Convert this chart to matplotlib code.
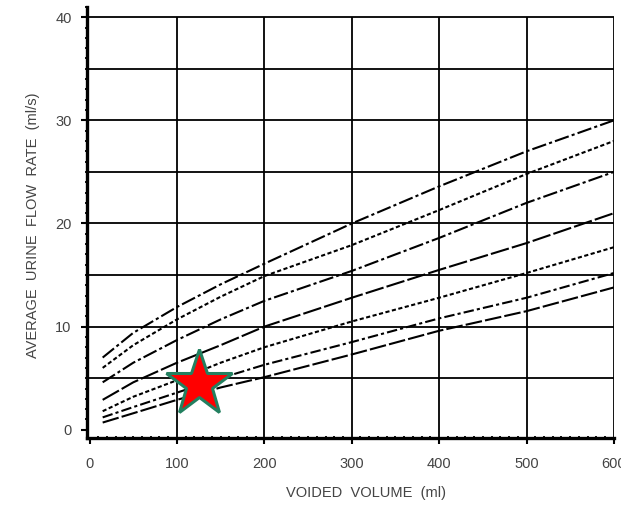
import matplotlib.pyplot as plt
from matplotlib.ticker import MultipleLocator

# voided volume (ml) where the curves were read
volume = [15, 50, 100, 150, 200, 300, 400, 500, 600]

# average flow rate (ml/s), top curve first
curve1 = [7.0, 9.4, 11.9, 14.1, 16.1, 20.0, 23.6, 27.0, 30.0]
curve2 = [6.0, 8.2, 10.7, 12.9, 14.9, 17.9, 21.3, 24.8, 28.0]
curve3 = [4.6, 6.5, 8.7, 10.7, 12.5, 15.4, 18.6, 22.0, 25.0]
curve4 = [2.9, 4.6, 6.5, 8.2, 10.0, 12.8, 15.5, 18.1, 21.0]
curve5 = [1.8, 3.2, 4.8, 6.5, 8.0, 10.5, 12.8, 15.2, 17.7]
curve6 = [1.2, 2.2, 3.6, 5.0, 6.3, 8.5, 10.8, 12.8, 15.2]
curve7 = [0.7, 1.6, 2.9, 4.1, 5.1, 7.3, 9.6, 11.5, 13.8]

# patient point
star_volume = [125]
star_flow = [4.4]

x_grid = [100, 200, 300, 400, 500, 600]
y_grid = [5, 10, 15, 20, 25, 30, 35, 40]

plt.rcParams["font.family"] = ["Liberation Sans", "DejaVu Sans"]

fig = plt.figure(figsize=(6.21, 5.12), dpi=100)
ax = fig.add_axes([0.140, 0.1445, 0.8486, 0.842])
ax.set_xlim(-3, 600)
ax.set_ylim(-0.8, 41)

# grid drawn by hand so it stops at 40 / 600 like the printed chart
ax.hlines(y_grid, -3, 600, color="black", lw=1.3, zorder=1)
ax.vlines(x_grid, -0.8, 40, color="black", lw=1.3, zorder=1)

dash_styles = [
    (0, (7, 1.5, 1.5, 1.5)),
    (0, (2, 1.2)),
    (0, (7, 1.5, 1.5, 1.5)),
    (0, (9, 1.5)),
    (0, (2, 1.2)),
    (0, (5, 1.5, 1.5, 1.5)),
    (0, (8, 1.5)),
]
curves = [curve1, curve2, curve3, curve4, curve5, curve6, curve7]
for c, ls in zip(curves, dash_styles):
    ax.plot(volume, c, color="black", lw=1.5, linestyle=ls, zorder=2)

ax.plot(star_volume, star_flow, marker="*", markersize=50, color="#ff0000",
        markeredgecolor="#238060", markeredgewidth=2.2, linestyle="none", zorder=4)

for side in ["top", "right"]:
    ax.spines[side].set_visible(False)
for side in ["left", "bottom"]:
    ax.spines[side].set_linewidth(2.4)

ax.set_xticks([0, 100, 200, 300, 400, 500, 600])
ax.set_yticks([0, 10, 20, 30, 40])
ax.xaxis.set_minor_locator(MultipleLocator(10))
ax.yaxis.set_minor_locator(MultipleLocator(1))
ax.tick_params(axis="x", which="major", length=4, width=1.5, pad=10,
               labelsize=10.5, labelcolor="#444444")
ax.tick_params(axis="y", which="major", length=4, width=1.5, pad=7,
               labelsize=10.5, labelcolor="#444444")
ax.tick_params(which="minor", length=2.5, width=1.3, direction="inout")

fig.text(0.589, 0.023, "VOIDED  VOLUME  (ml)", fontsize=10.5, color="#444444",
         ha="center", va="bottom")
fig.text(0.053, 0.56, "AVERAGE  URINE  FLOW  RATE  (ml/s)", fontsize=10.5,
         color="#444444", rotation=90, ha="center", va="center")

fig.savefig("out.png", dpi=100)
